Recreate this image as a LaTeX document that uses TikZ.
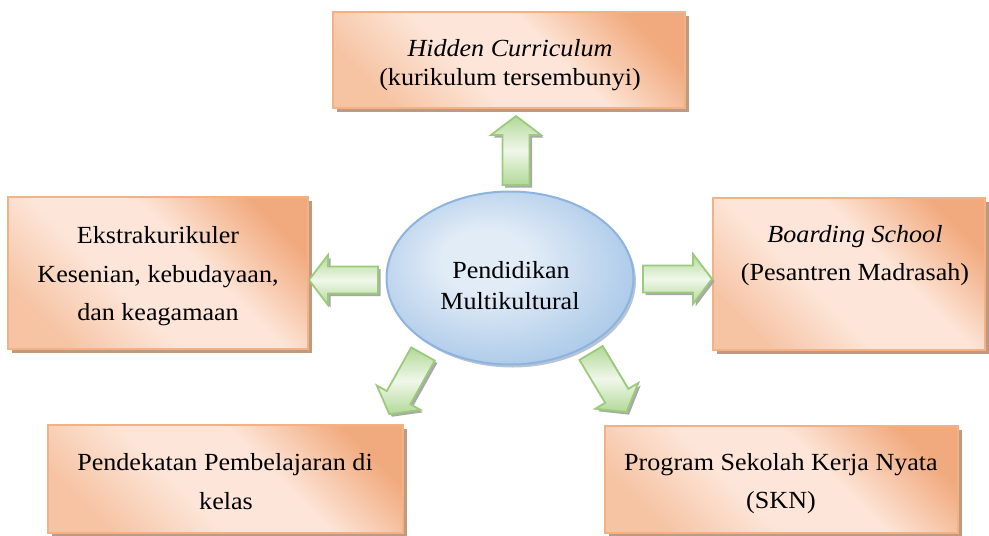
\documentclass[tikz,border=0pt]{standalone}
\usepackage{fontspec}
\setmainfont{Liberation Serif}[FakeStretch=1.06]
\usetikzlibrary{shadows,shapes.geometric}

\definecolor{orD}{HTML}{F1AA7E}
\definecolor{orL}{HTML}{FDE6D9}
\definecolor{orM}{HTML}{F6C3A3}
\definecolor{orB}{HTML}{F4B183}
\definecolor{shd}{HTML}{BE9A83}
\definecolor{blL}{HTML}{E2ECF7}
\definecolor{blD}{HTML}{A9C8E8}
\definecolor{blB}{HTML}{8DB3E0}
\definecolor{grL}{HTML}{F0F7EA}
\definecolor{grD}{HTML}{B2D998}
\definecolor{grB}{HTML}{9ACB7A}
\definecolor{ashd}{HTML}{A8A8A8}

\pgfdeclarehorizontalshading{boxshade}{100bp}{color(0bp)=(orM); color(24bp)=(orM); color(42bp)=(orL); color(58bp)=(orL); color(76bp)=(orD); color(100bp)=(orD)}
\pgfdeclareradialshading{ellshade}{\pgfpoint{-6bp}{6bp}}{color(0bp)=(blL); color(9bp)=(blL); color(30bp)=(blD); color(50bp)=(blD)}

\tikzset{
  obox/.style={draw=orB, line width=0.8pt, shading=boxshade, shading angle=45, inner sep=0pt,
    drop shadow={shadow xshift=2.2pt, shadow yshift=-2.2pt, fill=shd, opacity=1}},
  ell/.style={ellipse, draw=blB, line width=1pt, shading=ellshade, inner sep=0pt,
    minimum width=123.5pt, minimum height=86.5pt,
    drop shadow={shadow xshift=1.2pt, shadow yshift=-1.5pt, fill=blB!70!black, opacity=0.45}},
  txt/.style={anchor=base, inner sep=0pt, font=\fontsize{12.3}{14}\selectfont},
  barrow/.pic={
    \shadedraw[draw=grB, line width=0.9pt, line join=miter, top color=grD, bottom color=grD, middle color=grL]
      (0,-13.5) -- (50,-13.5) -- (50,-25) -- (69,0) -- (50,25) -- (50,13.5) -- (0,13.5) -- cycle;
  },
  bshadow/.pic={
    \fill[ashd] (0,-13.5) -- (50,-13.5) -- (50,-25) -- (69,0) -- (50,25) -- (50,13.5) -- (0,13.5) -- cycle;
  }
}

\begin{document}
\begin{tikzpicture}[x=0.5pt, y=-0.5pt]
\useasboundingbox (0,0) rectangle (989,535);

% boxes
\node[obox, minimum width=176pt, minimum height=48pt] (top) at (509,60) {};
\node[obox, minimum width=150pt, minimum height=76pt] (left) at (158,273) {};
\node[obox, minimum width=136pt, minimum height=76pt] (right) at (849,274) {};
\node[obox, minimum width=177.5pt, minimum height=54pt] (bl) at (225.5,479) {};
\node[obox, minimum width=176.5pt, minimum height=53.5pt] (br) at (781.5,479.5) {};

% centre ellipse
\node[ell] (c) at (510,278) {};

% texts
\node[txt] (t1) at (510,57) {\textit{Hidden Curriculum}};
\node[txt] (t2) at (510,86) {(kurikulum tersembunyi)};
\node[txt] (l1) at (158,243) {Ekstrakurikuler};
\node[txt] (l2) at (158,282) {Kesenian, kebudayaan,};
\node[txt] (l3) at (158,320) {dan keagamaan};
\node[txt] (r1) at (855,242) {\textit{Boarding School}};
\node[txt] (r2) at (855,280) {(Pesantren Madrasah)};
\node[txt] (b1) at (225,470) {Pendekatan Pembelajaran di};
\node[txt] (b2) at (226,509) {kelas};
\node[txt] (s1) at (781,470) {Program Sekolah Kerja Nyata};
\node[txt] (s2) at (781,508) {(SKN)};
\node[txt] (c1) at (511,278) {Pendidikan};
\node[txt] (c2) at (510,309) {Multikultural};

% block arrows (shadows first)
\pic[rotate=90] at (518.5,187.5) {bshadow};
\pic[rotate=180] at (380.5,282.5) {bshadow};
\pic[rotate=0] at (645.5,281.5) {bshadow};
\pic[rotate=240.8] at (425.5,356.5) {bshadow};
\pic[rotate=-59] at (593.5,355.5) {bshadow};

\pic[rotate=90] (aup) at (516,185) {barrow};
\pic[rotate=180] (aleft) at (378,280) {barrow};
\pic[rotate=0] (aright) at (643,279) {barrow};
\pic[rotate=240.8] (abl) at (423,354) {barrow};
\pic[rotate=-59] (abr) at (591,353) {barrow};
\end{tikzpicture}
\end{document}
